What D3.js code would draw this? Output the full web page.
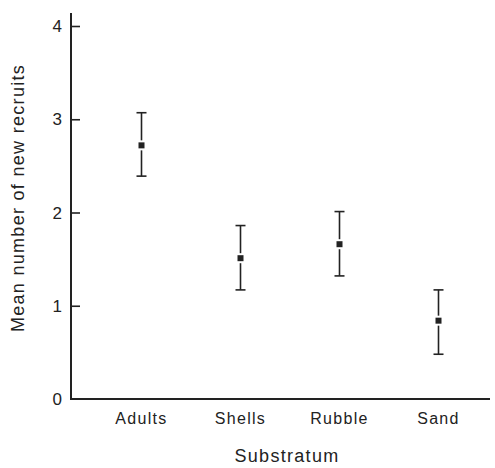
<!DOCTYPE html>
<html>
<head>
<meta charset="utf-8">
<script src="https://cdn.jsdelivr.net/npm/d3@7"></script>
<style>
  body { margin: 0; background: #fff; }
  svg text { font-family: "Liberation Sans", Arial, sans-serif; fill: #222; }
</style>
</head>
<body>
<svg id="chart" width="495" height="468"></svg>
<script>
// 데이터
var categories = ["Adults", "Shells", "Rubble", "Sand"];
var means = [2.72, 1.51, 1.66, 0.84];
var upper = [3.07, 1.86, 2.01, 1.17];
var lower = [2.39, 1.17, 1.32, 0.48];
var yTicks = [0, 1, 2, 3, 4];

var data = categories.map((c, i) => ({
	cat: c, mean: means[i], hi: upper[i], lo: lower[i]
}));

var svg = d3.select("#chart");
var axisX = 71, axisY = 399;

var x = d3.scaleBand()
	.domain(categories)
	.range([92, 488]);

var y = d3.scaleLinear()
	.domain([0, 4])
	.range([axisY, 26]);

// 축 선
svg.append("line")
	.attr("x1", axisX).attr("x2", axisX)
	.attr("y1", 13).attr("y2", axisY)
	.attr("stroke", "#222").attr("stroke-width", 2);

svg.append("line")
	.attr("x1", axisX - 1).attr("x2", 490)
	.attr("y1", axisY).attr("y2", axisY)
	.attr("stroke", "#222").attr("stroke-width", 2);

// y 눈금
var yAxis = svg.append("g")
	.attr("transform", `translate(${axisX},0)`)
	.call(d3.axisRight(y).tickValues(yTicks).tickSize(9).tickFormat(""));
yAxis.select(".domain").remove();
yAxis.selectAll(".tick line").attr("stroke", "#222").attr("stroke-width", 1.6);
yAxis.selectAll(".tick").filter(d => d === 0).select("line").remove();

svg.selectAll(".ylab")
	.data(yTicks)
	.enter().append("text")
	.attr("class", "ylab")
	.attr("x", 62)
	.attr("y", d => y(d))
	.attr("dy", "0.36em")
	.attr("text-anchor", "end")
	.style("font-size", "17px")
	.text(d => d);

// x 라벨
svg.selectAll(".xlab")
	.data(categories)
	.enter().append("text")
	.attr("class", "xlab")
	.attr("x", d => x(d) + x.bandwidth() / 2)
	.attr("y", 424)
	.attr("text-anchor", "middle")
	.style("font-size", "16px")
	.style("letter-spacing", "1.3px")
	.text(d => d);

// 축 제목
svg.append("text")
	.attr("x", 287)
	.attr("y", 462)
	.attr("text-anchor", "middle")
	.style("font-size", "18px")
	.style("letter-spacing", "1.3px")
	.text("Substratum");

svg.append("text")
	.attr("transform", `translate(24,198) rotate(-90)`)
	.attr("text-anchor", "middle")
	.style("font-size", "18px")
	.style("letter-spacing", "1.3px")
	.text("Mean number of new recruits");

// 오차 막대
var g = svg.selectAll(".err")
	.data(data)
	.enter().append("g")
	.attr("class", "err")
	.attr("transform", d => `translate(${x(d.cat) + x.bandwidth() / 2},0)`);

g.append("line")
	.attr("y1", d => y(d.lo)).attr("y2", d => y(d.hi))
	.attr("stroke", "#222").attr("stroke-width", 1.6);

g.selectAll(".cap")
	.data(d => [d.lo, d.hi])
	.enter().append("line")
	.attr("x1", -5).attr("x2", 5)
	.attr("y1", v => y(v)).attr("y2", v => y(v))
	.attr("stroke", "#222").attr("stroke-width", 1.6);

g.append("rect")
	.attr("x", -4).attr("y", d => y(d.mean) - 4)
	.attr("width", 8).attr("height", 8)
	.attr("fill", "#222")
	.attr("stroke", "#fff").attr("stroke-width", 2);
</script>
</body>
</html>
